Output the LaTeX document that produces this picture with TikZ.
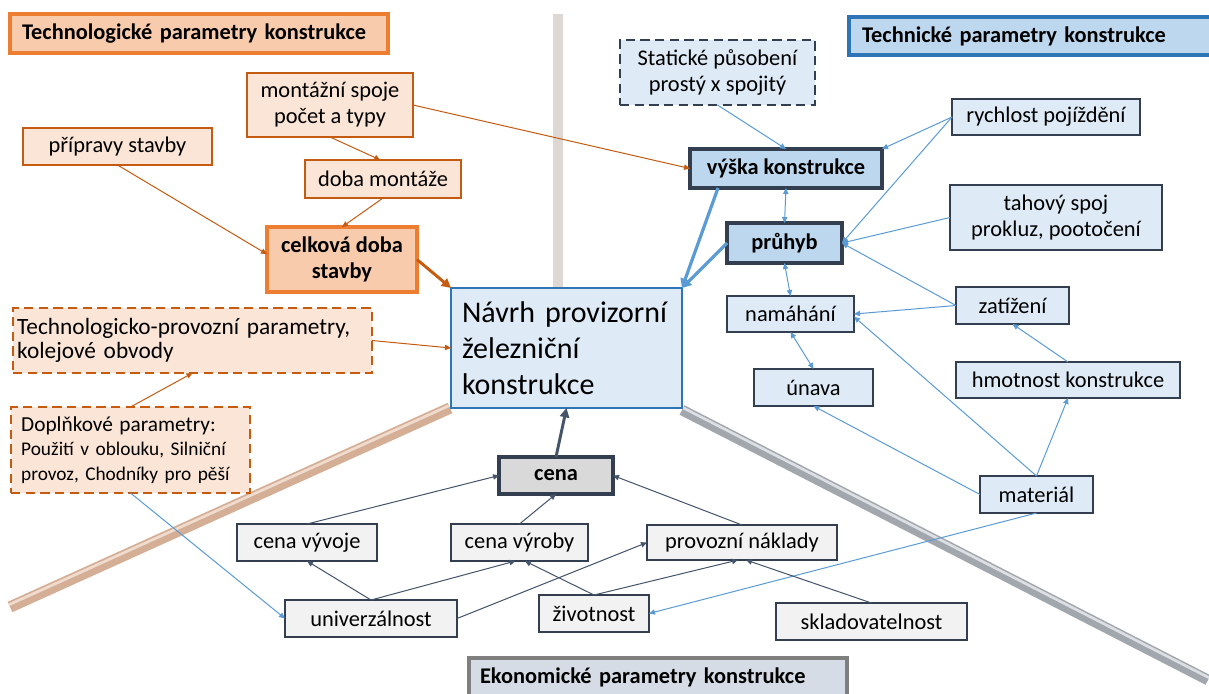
\documentclass[tikz,border=0pt]{standalone}
\usepackage{fontspec}
\setmainfont{Carlito}
\usetikzlibrary{arrows.meta}

\definecolor{orBorder}{HTML}{ED7D31}
\definecolor{orDark}{HTML}{C55A11}
\definecolor{orFill}{HTML}{FBE5D6}
\definecolor{orHead}{HTML}{F8CBAD}
\definecolor{blBorder}{HTML}{2E75B6}
\definecolor{blFill}{HTML}{DEEBF7}
\definecolor{blMid}{HTML}{BDD7EE}
\definecolor{blLine}{HTML}{5B9BD5}
\definecolor{navy}{HTML}{333F50}
\definecolor{slate}{HTML}{44546A}
\definecolor{grFill}{HTML}{F2F2F2}
\definecolor{grMid}{HTML}{D9D9D9}
\definecolor{grHead}{HTML}{D6DCE5}
\definecolor{grBorder}{HTML}{7F7F7F}
\definecolor{barV}{HTML}{DDD8D3}
\definecolor{barL}{HTML}{D5AF95}
\definecolor{barLl}{HTML}{EFDCCF}
\definecolor{barR}{HTML}{A2A7AE}
\definecolor{barRl}{HTML}{DCDFE3}

\newcommand{\nfs}{\fontsize{16.8}{19.5}\selectfont}

\begin{document}
\begin{tikzpicture}[x=0.75pt, y=-0.75pt,
  box/.style={draw, rectangle, inner sep=0pt, outer sep=0pt, align=center, font=\nfs},
  sz/.style 2 args={minimum width=#1*0.75pt, minimum height=#2*0.75pt},
  head/.style={box, line width=2.4pt, font=\nfs\bfseries, align=left},
  obox/.style={box, draw=orDark, fill=orFill, line width=1.1pt},
  odash/.style={box, draw=orDark, fill=orFill, line width=2.2pt, dash pattern=on 7pt off 4pt},
  okey/.style={box, draw=orBorder, fill=orHead, line width=2.4pt, font=\nfs\bfseries},
  bbox/.style={box, draw=navy, fill=blFill, line width=1.1pt},
  bkey/.style={box, draw=navy, fill=blMid, line width=2.6pt, font=\nfs\bfseries},
  gbox/.style={box, draw=navy, fill=grFill, line width=1.1pt},
  gkey/.style={box, draw=navy, fill=grMid, line width=2.6pt, font=\nfs\bfseries},
  oarr/.style={draw=orDark, line width=0.75pt, -{Triangle[length=4.5pt,width=4pt]}},
  barr/.style={draw=blLine, line width=0.75pt, -{Triangle[length=4.5pt,width=4pt]}},
  bboth/.style={barr, {Triangle[length=4.5pt,width=4pt]}-{Triangle[length=4.5pt,width=4pt]}},
  garr/.style={draw=slate, line width=0.75pt, -{Triangle[length=4.5pt,width=4pt]}},
  othick/.style={draw=orDark, line width=2.2pt, -{Triangle[length=7pt,width=7pt]}},
  bthick/.style={draw=blLine, line width=2.4pt, -{Triangle[length=7pt,width=7pt]}},
  gthick/.style={draw=slate, line width=2.2pt, -{Triangle[length=7pt,width=7pt]}}]
  \useasboundingbox (0,0) rectangle (1209,693);
  \fill[white] (0,0) rectangle (1209,693);

  % dividing bars
  \draw[line width=8pt, barV] (558,14) -- (558,288);
  \draw[line width=8.5pt, barL] (450,408) -- (10,607);
  \draw[line width=2pt, barLl] (449,405.7) -- (9,604.7);
  \draw[overlay, line width=8pt, barR] (682,410) -- (1208,680);
  \draw[overlay, line width=2pt, barRl] (683.1,407.8) -- (1209.1,677.8);

  % technological parameters
  \node[head, draw=orBorder, fill=orHead, sz={378}{39}, text width=265.5pt] (hTechno) at (199,33.5) {Technologické parametry konstrukce};
  \node[obox, sz={166}{64}] (mont) at (330,105) {montážní spoje\\počet a typy};
  \node[obox, sz={189}{37}] (prip) at (117.5,146.5) {přípravy stavby};
  \node[obox, sz={156}{38}] (doba) at (383,179) {doba montáže};
  \node[okey, sz={150}{65}] (celk) at (342,259.5) {celková doba\\stavby};
  \node[odash, sz={359}{65}, align=left, text width=263pt, font=\fontsize{17.5}{18}\selectfont] (tpar) at (192.5,340.5) {Technologicko-provozní parametry,\\kolejové obvody};
  \node[odash, sz={239}{86}, align=left, text width=164pt, font=\fontsize{14.5}{18.5}\selectfont] (dopl) at (130.5,450) {{\fontsize{16}{18.5}\selectfont Doplňkové parametry:}\\Použití v oblouku, Silniční\\provoz, Chodníky pro pěší};

  % main node
  \node[box, draw=blBorder, fill=blFill, line width=2.2pt, sz={231}{120}, align=left, text width=156.75pt, font=\fontsize{22.5}{27}\selectfont] (main) at (566.5,348) {Návrh provizorní\\železniční\\konstrukce};

  % technical parameters
  \node[overlay, head, draw=blBorder, fill=blMid, sz={420}{38}, text width=295.5pt] (hTechn) at (1059,36) {Technické parametry konstrukce};
  \node[bbox, line width=2pt, dash pattern=on 7pt off 4pt, sz={195}{65}] (stat) at (717.5,72.5) {Statické působení\\prostý x spojitý};
  \node[bbox, sz={188}{36}] (rych) at (1046,117) {rychlost pojíždění};
  \node[bkey, sz={192}{39}] (vys) at (786,168.5) {výška konstrukce};
  \node[bbox, sz={212}{65}] (tah) at (1056,217.5) {tahový spoj\\prokluz, pootočení};
  \node[bkey, sz={115}{40}] (pruh) at (784.5,243) {průhyb};
  \node[bbox, sz={127}{36}] (nam) at (790.5,314) {namáhání};
  \node[bbox, sz={113}{37}] (zat) at (1012.5,305.5) {zatížení};
  \node[bbox, sz={119}{37}] (unava) at (813.5,387.5) {únava};
  \node[bbox, sz={224}{36}] (hmot) at (1068,380) {hmotnost konstrukce};
  \node[bbox, sz={113}{37}] (mat) at (1036.5,494.5) {materiál};

  % economic parameters
  \node[overlay, head, draw=grBorder, fill=grHead, sz={378}{62}, text width=267pt, text height=12pt, text depth=21pt] (hEko) at (658,689) {Ekonomické parametry konstrukce};
  \node[gkey, sz={114}{37}] (cena) at (556,475.5) {cena};
  \node[gbox, sz={140}{37}] (cvyv) at (307,542.5) {cena vývoje};
  \node[gbox, sz={137}{37}] (cvyr) at (519.5,542.5) {cena výroby};
  \node[gbox, sz={190}{35}] (prov) at (742,542.5) {provozní náklady};
  \node[gbox, sz={172}{37}] (univ) at (371,618.5) {univerzálnost};
  \node[gbox, sz={110}{37}] (ziv) at (594,613.5) {životnost};
  \node[gbox, sz={191}{37}] (sklad) at (871.5,621.5) {skladovatelnost};

  % orange links
  \draw[oarr] (mont.east) -- (vys.west);
  \draw[oarr] (mont.south) -- ([xshift=-2pt]doba.north);
  \draw[oarr] (doba.south) -- (celk.north);
  \draw[oarr] (prip.south) -- ([yshift=4pt]celk.west);
  \draw[othick] (celk.east) -- (main.north west);
  \draw[oarr] (tpar.east) -- (main.west);
  \draw[oarr] (dopl.north) -- (tpar.south);

  % blue links
  \draw[barr] (dopl.south) -- (univ.west);
  \draw[barr] (stat.south) -- (vys.north);
  \draw[barr] (rych.west) -- (vys.north east);
  \draw[barr] (rych.west) -- (pruh.east);
  \draw[barr] (tah.west) -- (pruh.east);
  \draw[barr] (zat.west) -- (pruh.east);
  \draw[barr] (zat.west) -- (nam.east);
  \draw[bboth] (vys.south) -- (pruh.north);
  \draw[bboth] (pruh.south) -- (nam.north);
  \draw[bboth] (nam.south) -- (unava.north);
  \draw[barr] (mat.west) -- (unava.south);
  \draw[barr] (mat.north) -- ([yshift=-2pt]nam.east);
  \draw[barr] (mat.north) -- (hmot.south);
  \draw[barr] (hmot.north) -- (zat.south);
  \draw[barr] (mat.south) -- (ziv.east);
  \draw[bthick] (pruh.west) -- (main.north east);
  \draw[bthick] ([xshift=21pt]vys.south west) -- (main.north east);

  % economic links
  \draw[gthick] (cena.north) -- (main.south);
  \draw[garr] (cvyv.north) -- (cena.west);
  \draw[garr] (cvyr.north) -- (cena.south);
  \draw[garr] (prov.north) -- (cena.east);
  \draw[garr] (univ.north) -- (cvyv.south);
  \draw[garr] (univ.north) -- ([xshift=-3pt]cvyr.south);
  \draw[garr] (univ.east) -- (prov.west);
  \draw[garr] (ziv.north) -- ([xshift=4pt]cvyr.south);
  \draw[garr] (ziv.north) -- ([xshift=-3pt]prov.south);
  \draw[garr] (sklad.north) -- ([xshift=3pt]prov.south);
\end{tikzpicture}
\end{document}
